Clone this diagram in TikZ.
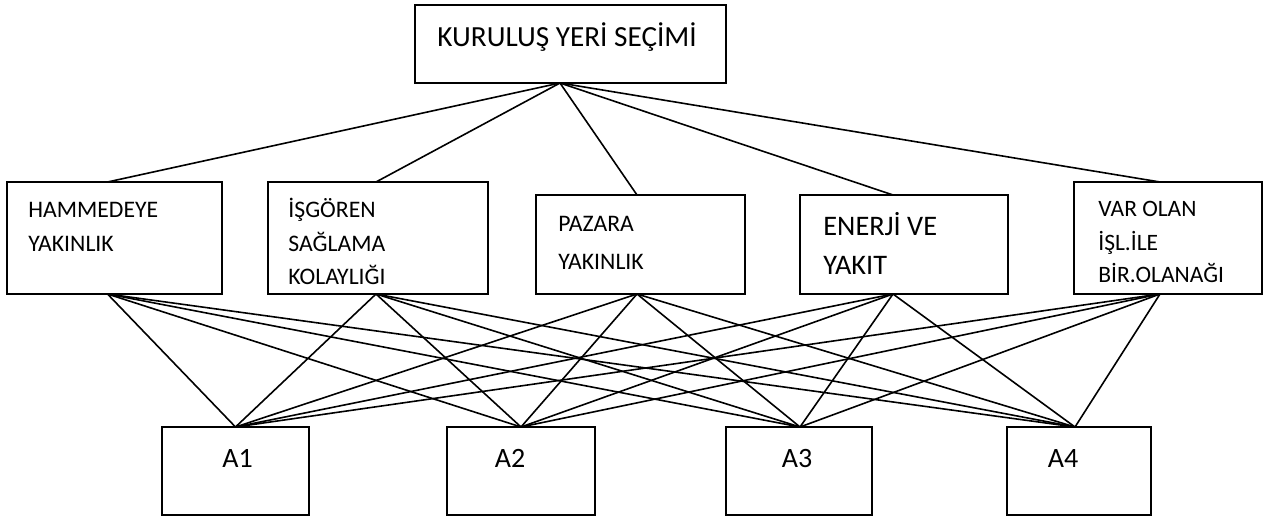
\documentclass[tikz,border=0pt]{standalone}
\usepackage{fontspec}
\setmainfont{Carlito}
\usetikzlibrary{positioning,calc}

\begin{document}
\begin{tikzpicture}[
    x=0.5pt, y=-0.5pt,
    box/.style 2 args={
      draw=black, line width=1pt, fill=white,
      minimum width=#1pt, minimum height=#2pt,
      inner sep=0pt, outer sep=0pt,
    },
    boxtext/.style={
      font=\fontsize{11.85}{16.75}\selectfont,
      align=left, inner sep=0pt, anchor=base west,
    },
    link/.style={line width=0.8pt, black},
  ]

  % Page frame: 1268 x 518
  \useasboundingbox (0,0) rectangle (1268,518);

  % =================== Goal ===================
  \node[box={155.5}{39}] (goal) at (570.5,44) {};
  \node[boxtext, font=\fontsize{14.6}{19.5}\selectfont] (goaltxt)
    at ([shift={(22,42)}]goal.north west) {KURULUŞ YERİ SEÇİMİ};

  % =================== Criteria ===================
  % (base anchor = baseline of the last line)
  \node[box={107.5}{56}] (c1) at (114.5,238) {};
  \node[box={110}{56}]   (c2) at (378,238) {};
  \node[box={104.5}{49.5}] (c3) at (640.5,244.5) {};
  \node[box={104}{49.5}] (c4) at (904,244.5) {};
  \node[box={94}{56}]    (c5) at (1168,238) {};

  \node[boxtext] (c1txt) at ([shift={(21,69)}]c1.north west) {HAMMEDEYE\\YAKINLIK};
  \node[boxtext] (c2txt) at ([shift={(20,102.5)}]c2.north west) {İŞGÖREN\\SAĞLAMA\\KOLAYLIĞI};
  \node[boxtext, font=\fontsize{11.85}{19}\selectfont] (c3txt)
    at ([shift={(22,75)}]c3.north west) {PAZARA\\YAKINLIK};
  \node[boxtext, font=\fontsize{14.15}{19.5}\selectfont] (c4txt)
    at ([shift={(23,79)}]c4.north west) {ENERJİ VE\\YAKIT};
  \node[boxtext, font=\fontsize{11.75}{16.5}\selectfont] (c5txt)
    at ([shift={(24,101)}]c5.north west) {VAR OLAN\\İŞL.İLE\\BİR.OLANAĞI};

  % =================== Alternatives ===================
  \node[box={73.5}{44}] (a1) at (235.5,471) {};
  \node[box={74}{44}]   (a2) at (521,471) {};
  \node[box={73}{44}]   (a3) at (799,471) {};
  \node[box={72}{44}]   (a4) at (1079,471) {};

  \foreach \a/\dx in {a1/2,a2/-11,a3/-2,a4/-16}
    \node[font=\fontsize{14}{16}\selectfont, inner sep=0pt, anchor=base] (\a txt)
      at ([shift={(\dx,40)}]\a.north) {\MakeUppercase{\a}};

  % =================== Links ===================
  \foreach \c/\cx in {c1/-3.5,c2/-1,c3/-1.75,c4/-5.5,c5/-4} {
    \draw[link] ([xshift=-5.25pt]goal.south) -- ([xshift=\cx pt]\c.north);
    \foreach \a/\ax in {a1/0,a2/0,a3/0.5,a4/-2}
      \draw[link] ([xshift=\cx pt]\c.south) -- ([xshift=\ax pt]\a.north);
  }

\end{tikzpicture}
\end{document}
